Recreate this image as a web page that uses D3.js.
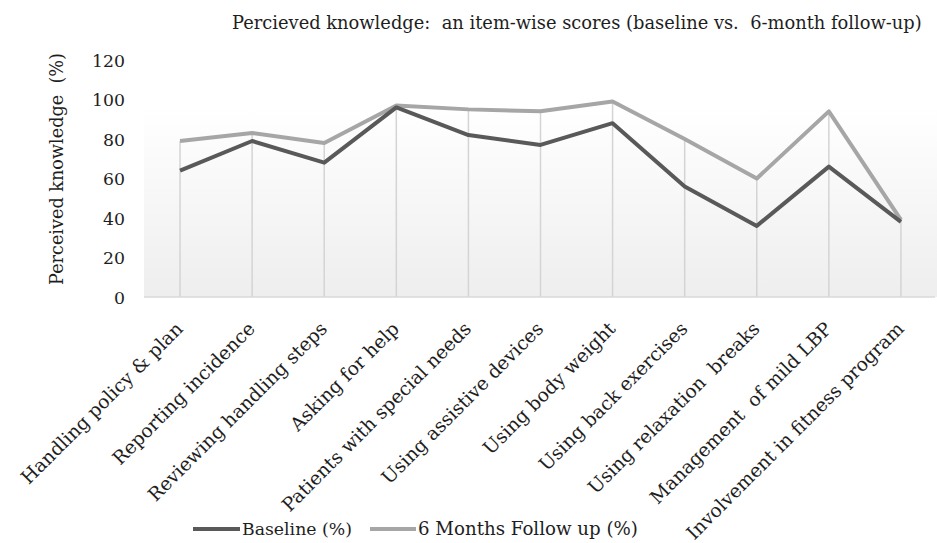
<!DOCTYPE html>
<html>
<head>
<meta charset="utf-8">
<script src="https://cdn.jsdelivr.net/npm/d3@7"></script>
<style>
  html, body { margin: 0; padding: 0; background: #fff; }
  svg { display: block; font-family: "DejaVu Serif", "Liberation Serif", serif; }
  text { white-space: pre; }
</style>
</head>
<body>
<svg id="chart" width="937" height="543"></svg>
<script>
const categories = [
  "Handling policy & plan",
  "Reporting incidence",
  "Reviewing handling steps",
  "Asking for help",
  "Patients with special needs",
  "Using assistive devices",
  "Using body weight",
  "Using back exercises",
  "Using relaxation  breaks",
  "Management  of mild LBP",
  "Involvement in fitness program"
];
const baseline = [64, 79, 68, 96, 82, 77, 88, 56, 36, 66, 38];
const followUp = [79, 83, 78, 97, 95, 94, 99, 80, 60, 94, 39];
const yTicks = [0, 20, 40, 60, 80, 100, 120];
const seriesNames = ["Baseline (%)", "6 Months Follow up (%)"];
const seriesColors = ["#595959", "#a6a6a6"];

const svg = d3.select("#chart");
const W = 937;
const margin = { left: 144, right: 0, top: 60 };
const plotBottom = 297;
const textColor = "#1e1e1e";

const x = d3.scaleBand().domain(categories).range([margin.left, W - margin.right]);
const y = d3.scaleLinear().domain([0, 120]).range([plotBottom, margin.top]);
const cx = d => x(d) + x.bandwidth() / 2;

// scale a text's font size so that it spans the given width
function fitWidth(sel, width) {
  const node = sel.node();
  const fs = parseFloat(sel.attr("font-size"));
  const len = node.getComputedTextLength();
  const k = width / len;
  sel.attr("font-size", fs * k);
  return k;
}

// plot area background gradient
const defs = svg.append("defs");
const grad = defs.append("linearGradient").attr("id", "bg").attr("x1", 0).attr("y1", 0).attr("x2", 0).attr("y2", 1);
grad.append("stop").attr("offset", "0%").attr("stop-color", "#ffffff");
grad.append("stop").attr("offset", "18%").attr("stop-color", "#fcfcfc");
grad.append("stop").attr("offset", "100%").attr("stop-color", "#eeeeee");
svg.append("rect")
  .attr("x", margin.left).attr("y", y(96))
  .attr("width", W - margin.left).attr("height", plotBottom - y(96))
  .attr("fill", "url(#bg)");

// title
const title = svg.append("text")
  .attr("x", 232).attr("y", 29)
  .attr("font-size", 17)
  .attr("fill", textColor)
  .text("Percieved knowledge:  an item-wise scores (baseline vs.  6-month follow-up)");
fitWidth(title, 690);

// y axis (labels only)
const yAxis = d3.axisLeft(y).tickValues(yTicks).tickSize(0).tickPadding(0);
const gy = svg.append("g").attr("transform", `translate(125,0)`).call(yAxis);
gy.select(".domain").remove();
gy.attr("font-family", null).attr("font-size", null);
gy.selectAll("text").attr("font-size", 16).attr("fill", textColor).attr("dy", "0.35em");
const tk = fitWidth(gy.selectAll("text").filter(d => d === 120), 33);
gy.selectAll("text").attr("font-size", 16 * tk);

const yTitle = svg.append("text")
  .attr("transform", `translate(63,${169}) rotate(-90)`)
  .attr("text-anchor", "middle")
  .attr("font-size", 16)
  .attr("fill", textColor)
  .text("Perceived knowledge  (%)");
fitWidth(yTitle, 232);

// drop lines from the higher series to the axis
svg.append("g").selectAll("line")
  .data(categories)
  .join("line")
  .attr("x1", d => cx(d)).attr("x2", d => cx(d))
  .attr("y1", (d, i) => y(Math.max(baseline[i], followUp[i])))
  .attr("y2", plotBottom)
  .attr("stroke", "#d4d4d4").attr("stroke-width", 1.5);

// x axis line
svg.append("line")
  .attr("x1", margin.left).attr("x2", W - 2)
  .attr("y1", plotBottom).attr("y2", plotBottom)
  .attr("stroke", "#d9d9d9").attr("stroke-width", 1.5);

// category labels, rotated
const xAxis = d3.axisBottom(x).tickSize(0).tickPadding(0);
const gx = svg.append("g").attr("transform", `translate(0,${plotBottom})`).call(xAxis);
gx.select(".domain").remove();
gx.attr("font-family", null).attr("font-size", null);
const labels = gx.selectAll("text")
  .attr("font-size", 15)
  .attr("fill", textColor)
  .attr("text-anchor", "end")
  .attr("dy", 0);
const lk = fitWidth(labels.filter((d, i) => i === categories.length - 1), 298);
labels.attr("font-size", 15 * lk)
  .attr("transform", "translate(4,33) rotate(-45)");

// series lines
const line = d3.line().x((d, i) => cx(categories[i])).y(d => y(d));
[[followUp, seriesColors[1]], [baseline, seriesColors[0]]].forEach(([vals, color]) => {
  svg.append("path")
    .datum(vals)
    .attr("d", line)
    .attr("fill", "none")
    .attr("stroke", color)
    .attr("stroke-width", 4)
    .attr("stroke-linejoin", "round");
});

// legend
const legend = svg.append("g").attr("transform", "translate(0,529)");
const legendItems = [
  { name: seriesNames[0], color: seriesColors[0], x0: 193, x1: 240, w: 110 },
  { name: seriesNames[1], color: seriesColors[1], x0: 370, x1: 416, w: 220 }
];
legendItems.forEach(it => {
  legend.append("line").attr("x1", it.x0).attr("x2", it.x1).attr("y1", 0).attr("y2", 0)
    .attr("stroke", it.color).attr("stroke-width", 4);
  const t = legend.append("text").attr("x", it.x1 + 2).attr("y", 6).attr("font-size", 16).attr("fill", textColor)
    .text(it.name);
  fitWidth(t, it.w);
});
</script>
</body>
</html>
